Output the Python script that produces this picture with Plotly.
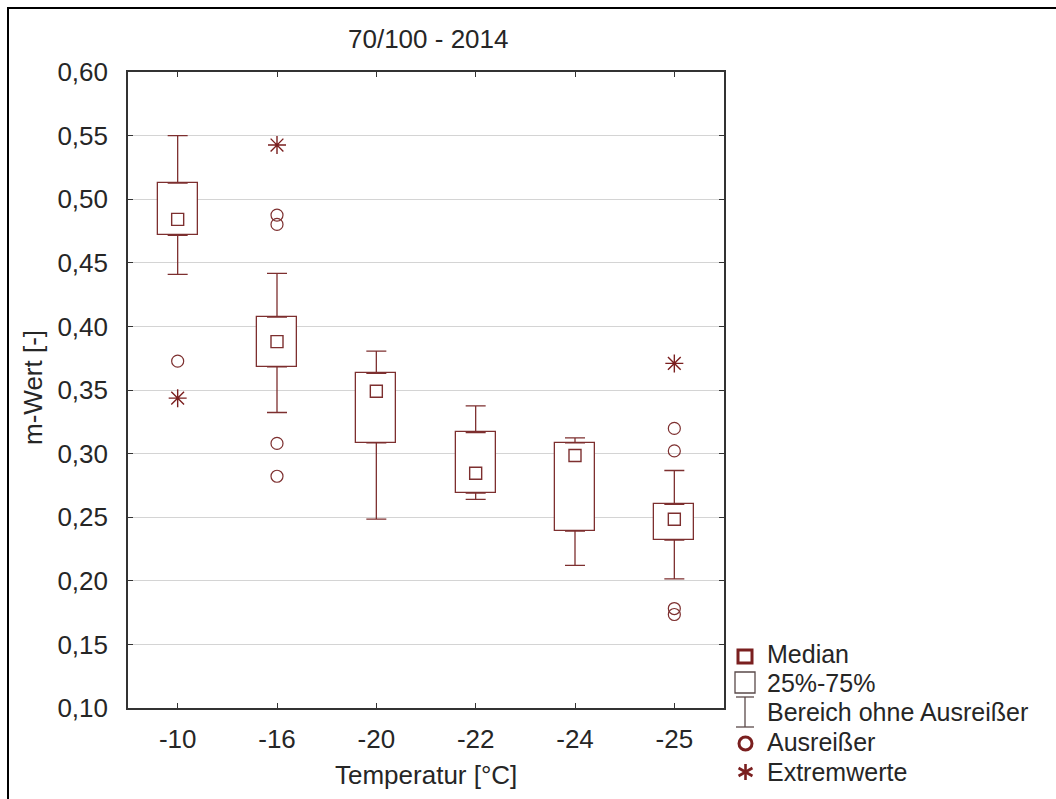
import plotly.graph_objects as go

# ---- data ----
categories = ["-10", "-16", "-20", "-22", "-24", "-25"]
q1 = [0.4716, 0.3682, 0.3085, 0.2690, 0.2390, 0.2319]
medians = [0.4841, 0.3880, 0.3490, 0.2846, 0.2985, 0.2484]
q3 = [0.5127, 0.4073, 0.3630, 0.3166, 0.3084, 0.2602]
whisker_low = [0.4409, 0.3323, 0.2485, 0.2640, 0.2122, 0.2015]
whisker_high = [0.5500, 0.4417, 0.3806, 0.3375, 0.3124, 0.2867]

outlier_cats = ["-10", "-16", "-16", "-16", "-16", "-25", "-25", "-25", "-25"]
outlier_vals = [0.3727, 0.4875, 0.4802, 0.3080, 0.2822, 0.3198, 0.3021, 0.1782, 0.1735]

extreme_cats = ["-10", "-16", "-25"]
extreme_vals = [0.3436, 0.5426, 0.3709]

y_ticks = [0.10, 0.15, 0.20, 0.25, 0.30, 0.35, 0.40, 0.45, 0.50, 0.55, 0.60]

legend_labels = ["Median", "25%-75%", "Bereich ohne Ausreißer", "Ausreißer", "Extremwerte"]

# ---- style ----
W, H = 1056, 799
L, R, T, B = 128, 724, 72, 708
FONT = "Arial, Liberation Sans, sans-serif"
BOX_C = "#7d2f2f"
MARK_C = "#7a1f1f"
TXT_C = "#262626"
FS = 26
LEG_FS = 25


def px(x):
    return (x - L) / (R - L)


def py(y):
    return (B - y) / (B - T)


fig = go.Figure()

# boxes (25%-75%)
fig.add_trace(go.Bar(
    x=categories, y=[b - a for a, b in zip(q1, q3)], base=q1, width=0.4,
    marker=dict(color="white", line=dict(color=BOX_C, width=1.3)),
    showlegend=False, hoverinfo="skip"))

# upper whiskers
fig.add_trace(go.Scatter(
    x=categories, y=q3, mode="markers", marker=dict(size=1, opacity=0),
    error_y=dict(type="data", symmetric=False,
                 array=[h - b for h, b in zip(whisker_high, q3)],
                 arrayminus=[0] * len(q3),
                 color=BOX_C, thickness=1.3, width=10),
    showlegend=False, hoverinfo="skip"))
# lower whiskers
fig.add_trace(go.Scatter(
    x=categories, y=q1, mode="markers", marker=dict(size=1, opacity=0),
    error_y=dict(type="data", symmetric=False,
                 array=[0] * len(q1),
                 arrayminus=[a - l for a, l in zip(q1, whisker_low)],
                 color=BOX_C, thickness=1.3, width=10),
    showlegend=False, hoverinfo="skip"))

# medians
fig.add_trace(go.Scatter(
    x=categories, y=medians, mode="markers",
    marker=dict(symbol="square-open", size=12, color=BOX_C, line=dict(width=1.4)),
    showlegend=False))

# outliers
fig.add_trace(go.Scatter(
    x=outlier_cats, y=outlier_vals, mode="markers",
    marker=dict(symbol="circle-open", size=12, color=BOX_C, line=dict(width=1.2)),
    showlegend=False))

# extremes
fig.add_trace(go.Scatter(
    x=extreme_cats, y=extreme_vals, mode="markers",
    marker=dict(symbol="asterisk-open", size=15, color=MARK_C, line=dict(width=1.4, color=MARK_C)),
    showlegend=False))

shapes = []
# outer frame (cut off at right/bottom)
shapes.append(dict(type="rect", xref="paper", yref="paper",
                   x0=px(8), x1=px(W + 10), y0=py(H + 10), y1=py(8),
                   line=dict(color="black", width=2), layer="above"))

# legend symbols
# Median
shapes.append(dict(type="rect", xref="paper", yref="paper",
                   x0=px(738), x1=px(752), y0=py(663), y1=py(650),
                   line=dict(color=MARK_C, width=3)))
# 25%-75%
shapes.append(dict(type="rect", xref="paper", yref="paper",
                   x0=px(735), x1=px(755), y0=py(693), y1=py(672),
                   line=dict(color="#5a4a4a", width=1.3)))
# whisker glyph
for (x0, y0, x1, y1) in [(745, 697, 745, 727), (736, 697, 754, 697), (736, 727, 754, 727)]:
    shapes.append(dict(type="line", xref="paper", yref="paper",
                       x0=px(x0), x1=px(x1), y0=py(y0), y1=py(y1),
                       line=dict(color="#5a4a4a", width=1.3)))
# Ausreisser circle
shapes.append(dict(type="circle", xref="paper", yref="paper",
                   x0=px(739), x1=px(752), y0=py(750), y1=py(737),
                   line=dict(color=MARK_C, width=3)))
# Extremwerte asterisk
cx, cy, r = 745.5, 772, 8
for (dx, dy) in [(0, 1), (0.87, 0.5), (0.87, -0.5)]:
    shapes.append(dict(type="line", xref="paper", yref="paper",
                       x0=px(cx - r * dx), x1=px(cx + r * dx),
                       y0=py(cy - r * dy), y1=py(cy + r * dy),
                       line=dict(color=MARK_C, width=2.6)))

annotations = []
leg_y = [654, 683, 712, 742, 772]
for lab, yy in zip(legend_labels, leg_y):
    annotations.append(dict(text=lab, xref="paper", yref="paper", x=px(765), y=py(yy),
                            xanchor="left", yanchor="middle", showarrow=False,
                            font=dict(family=FONT, size=LEG_FS, color=TXT_C)))
# title
annotations.append(dict(text="70/100 - 2014", xref="paper", yref="paper", x=px(428), y=py(39),
                        xanchor="center", yanchor="middle", showarrow=False,
                        font=dict(family=FONT, size=FS, color=TXT_C)))
# axis titles
annotations.append(dict(text="Temperatur [°C]", xref="paper", yref="paper", x=px(426), y=py(775),
                        xanchor="center", yanchor="middle", showarrow=False,
                        font=dict(family=FONT, size=FS, color=TXT_C)))
annotations.append(dict(text="m-Wert [-]", xref="paper", yref="paper", x=px(33), y=py(388),
                        xanchor="center", yanchor="middle", showarrow=False, textangle=-90,
                        font=dict(family=FONT, size=FS, color=TXT_C)))

fig.update_layout(
    width=W, height=H,
    margin=dict(l=L, r=W - R, t=T, b=H - B, pad=0),
    paper_bgcolor="white", plot_bgcolor="white",
    separators=", ",
    showlegend=False,
    font=dict(family=FONT, size=FS, color=TXT_C),
    shapes=shapes, annotations=annotations,
    bargap=0,
)
fig.update_xaxes(
    type="category", categoryorder="array", categoryarray=categories,
    range=[-0.5, 5.5], showgrid=False, zeroline=False,
    showline=True, linecolor="#333333", linewidth=1.6, mirror="ticks",
    ticks="inside", ticklen=5, tickcolor="#333333", tickwidth=1.3,
    ticklabelstandoff=7,
    tickfont=dict(family=FONT, size=FS, color=TXT_C),
)
fig.update_yaxes(
    range=[0.10, 0.60], tickvals=y_ticks, tickformat=".2f",
    showgrid=True, gridcolor="#d4d4d4", gridwidth=1, zeroline=False,
    showline=True, linecolor="#333333", linewidth=1.6, mirror="ticks",
    ticks="inside", ticklen=5, tickcolor="#333333", tickwidth=1.3,
    ticklabelstandoff=13,
    tickfont=dict(family=FONT, size=FS, color=TXT_C),
)

fig.write_html("out.html")
